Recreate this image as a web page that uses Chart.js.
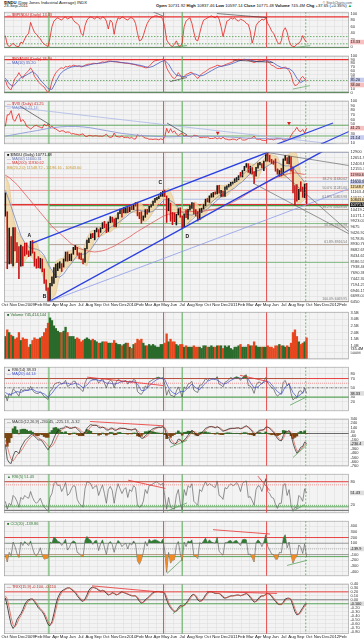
<!DOCTYPE html>
<html lang="en">
<head>
<meta charset="utf-8">
<script src="https://cdn.jsdelivr.net/npm/chart.js@4.4.1/dist/chart.umd.min.js"></script>
<style>
  body { margin: 0; background: #fff; }
  #page { position: relative; width: 364px; height: 640px; overflow: hidden; font-family: Arial, "Liberation Sans", sans-serif; color: #111; }
  #page canvas { position: absolute; left: 0; }
  .hd { position: absolute; font-size: 4.2px; line-height: 4.4px; white-space: nowrap; }
</style>
</head>
<body>
<div id="page">
  <div class="hd" style="left:4px;top:0.5px"><b>$INDU</b> (Dow Jones Industrial Average) INDX</div>
  <div class="hd" style="left:4px;top:4.2px">23-Sep-2011</div>
  <div class="hd" style="right:12px;top:0.5px;font-size:3.4px;color:#555">© StockCharts.com</div>
  <div class="hd" style="right:12px;top:4.2px"><b>Open</b> 10731.92 <b>High</b> 10837.46 <b>Low</b> 10597.14 <b>Close</b> 10771.48 <b>Volume</b> 745.4M <b>Chg</b> +37.65 (+0.35%) <span style="color:#2a2">&#9650;</span></div>
  <canvas id="p1" width="364" height="44" style="top:8px"></canvas>
  <canvas id="p2" width="364" height="45" style="top:52px"></canvas>
  <canvas id="p3" width="364" height="51" style="top:97px"></canvas>
  <canvas id="price" width="364" height="160" style="top:148px"></canvas>
  <canvas id="vol" width="364" height="55" style="top:308px"></canvas>
  <canvas id="rsi" width="364" height="52" style="top:363px"></canvas>
  <canvas id="macd" width="364" height="55" style="top:415px"></canvas>
  <canvas id="sto" width="364" height="47" style="top:470px"></canvas>
  <canvas id="cci" width="364" height="63" style="top:517px"></canvas>
  <canvas id="trix" width="364" height="60" style="top:580px"></canvas>
</div>
<script>
// weekly values, Fri 3-Oct-2008 .. Fri 23-Sep-2011 (156 weeks)
const closes = [
  10325, 8451, 8852, 8378, 9325, 8943, 8497, 8046, 8829, 8635, 8629, 8579, 8515,
  9034, 8599, 8281, 8077, 8000, 8280, 7850, 7366, 7062, 6627, 7224, 7278, 7776,
  8018, 8083, 8131, 8076, 8212, 8575, 8268, 8277, 8500, 8764, 8799, 8539, 8438,
  8280, 8146, 8743, 9093, 9172, 9370, 9321, 9505, 9544, 9441, 9605, 9820, 9665,
  9487, 9865, 9995, 9972, 9713, 10023, 10270, 10318, 10310, 10388, 10471, 10329, 10520,
  10428, 10618, 10610, 10172, 10067, 10012, 10099, 10402, 10325, 10566, 10624, 10742, 10850,
  10927, 10997, 11019, 11204, 11009, 10380, 10620, 10193, 10137, 9932, 10212, 10450, 10144,
  9686, 10198, 10098, 10425, 10466, 10654, 10303, 10214, 10150, 10448, 10462, 10607, 10861,
  10829, 11006, 11063, 11133, 11118, 11445, 11193, 11204, 11092, 11382, 11410, 11492, 11573,
  11578, 11675, 11787, 11872, 11824, 12092, 12273, 12391, 12130, 12170, 12044, 11859, 12221,
  12377, 12380, 12342, 12505, 12811, 12638, 12596, 12512, 12441, 12151, 11952, 12004, 11934,
  12582, 12657, 12480, 12681, 12143, 11444, 11269, 10818, 11285, 11240, 10992, 11509, 10771
];
const highs = [
  11140, 10330, 9630, 9260, 9650, 9650, 9000, 8830, 8900, 8830, 8980, 8990, 8650,
  9060, 9090, 8600, 8300, 8400, 8330, 8300, 7880, 7400, 7060, 7250, 7530, 7930,
  8080, 8120, 8180, 8100, 8300, 8600, 8600, 8500, 8520, 8800, 8880, 8800, 8560,
  8550, 8300, 8760, 9110, 9200, 9380, 9400, 9530, 9630, 9560, 9640, 9860, 9920,
  9800, 9890, 10120, 10100, 10020, 10060, 10290, 10440, 10480, 10520, 10500, 10520, 10540,
  10590, 10640, 10730, 10730, 10300, 10330, 10150, 10420, 10430, 10570, 10640, 10790, 10900,
  10950, 11010, 11150, 11210, 11260, 11010, 10900, 10700, 10300, 10280, 10220, 10460, 10500,
  10150, 10230, 10410, 10430, 10590, 10720, 10700, 10420, 10330, 10460, 10480, 10640, 10870,
  10900, 11010, 11110, 11160, 11180, 11450, 11460, 11250, 11220, 11400, 11440, 11510, 11590,
  11610, 11750, 11800, 11880, 12020, 12100, 12280, 12400, 12390, 12290, 12230, 12050, 12240,
  12420, 12450, 12400, 12510, 12820, 12880, 12760, 12580, 12520, 12600, 12160, 12110, 12190,
  12600, 12750, 12660, 12720, 12690, 12250, 11450, 11500, 11290, 11620, 11390, 11520, 11550
];
const lows = [
  10140, 7880, 8090, 8110, 8000, 8650, 8150, 7450, 7990, 8000, 8430, 8500, 8400,
  8450, 8550, 7990, 7900, 7920, 7900, 7750, 7250, 6950, 6470, 6470, 7140, 7250,
  7500, 7800, 7900, 7760, 7950, 8210, 8200, 8230, 8220, 8500, 8700, 8460, 8300,
  8270, 8090, 8150, 8730, 9000, 9170, 9210, 9120, 9460, 9250, 9440, 9600, 9640,
  9430, 9480, 9860, 9880, 9680, 9680, 10020, 10250, 10100, 10280, 10280, 10290, 10330,
  10420, 10420, 10570, 10150, 10030, 9830, 9960, 10090, 10220, 10320, 10530, 10600, 10730,
  10840, 10890, 10990, 10990, 10980, 9870, 10370, 9920, 9770, 9900, 9760, 10190, 10090,
  9620, 9680, 10070, 10010, 10400, 10470, 10240, 10150, 9930, 9990, 10300, 10440, 10580,
  10750, 10730, 10950, 10960, 11080, 11090, 11130, 10990, 10990, 10990, 11290, 11400, 11440,
  11520, 11580, 11630, 11700, 11820, 11820, 12090, 12240, 12020, 11980, 11940, 11550, 11860,
  12200, 12340, 12210, 12090, 12500, 12500, 12470, 12400, 12370, 12070, 11940, 11860, 11870,
  11930, 12530, 12390, 12380, 12070, 11140, 10600, 10780, 10850, 11200, 10950, 10930, 10600
];
// every second week
const bbUpper = [11900, 11500, 10100, 9500, 9250, 9000, 8850, 9100, 9050, 8500, 8400, 8000, 7700,
  8200, 8300, 8350, 8650, 8650, 8900, 8850, 8700, 9200, 9500, 9550, 9620, 9850,
  9870, 10050, 10100, 10300, 10420, 10500, 10560, 10650, 10770, 10700, 10450, 10600, 10850,
  10980, 11100, 11230, 11350, 11000, 10500, 10500, 10400, 10500, 10700, 10750, 10550, 10700,
  10950, 11100, 11200, 11480, 11450, 11500, 11630, 11700, 11880, 12080, 12400, 12400, 12350,
  12450, 12480, 12700, 12820, 12750, 12700, 12300, 12750, 12800, 13000, 12800, 11900, 11550];
const bbLower = [10300, 8300, 7900, 8300, 7950, 8200, 8450, 8350, 7950, 7900, 7400, 6600, 6600,
  6800, 7600, 7850, 7950, 8150, 8300, 8350, 8100, 8000, 8700, 9150, 9280, 9300,
  9430, 9450, 9600, 9650, 9980, 10200, 10280, 10300, 10250, 9900, 9900, 10050, 10300,
  10600, 10800, 10900, 10250, 9950, 9850, 9900, 9700, 9800, 10100, 10150, 9950, 10050,
  10350, 10700, 10900, 10950, 10950, 11000, 11200, 11400, 11530, 11620, 11800, 12000, 11750,
  11750, 12130, 12200, 12400, 12350, 11950, 11800, 11800, 12200, 11500, 10700, 10700, 10850];
const ma50 = [11250, 10800, 10300, 9800, 9300, 9000, 8800, 8750, 8720, 8650, 8450, 8100, 7800,
  7550, 7520, 7650, 7900, 8100, 8350, 8500, 8500, 8550, 8700, 8950, 9200, 9400,
  9550, 9650, 9750, 9850, 9980, 10100, 10250, 10350, 10400, 10380, 10330, 10300, 10350,
  10500, 10700, 10850, 10850, 10750, 10600, 10400, 10250, 10200, 10180, 10250, 10300, 10350,
  10450, 10600, 10750, 10900, 11020, 11150, 11250, 11350, 11500, 11620, 11800, 11950, 12030,
  12100, 12150, 12250, 12350, 12450, 12450, 12350, 12300, 12300, 12250, 12000, 11800, 11600];
const ma200 = [11900, 11800, 11650, 11500, 11300, 11100, 10900, 10700, 10500, 10300, 10100, 9900, 9700,
  9550, 9400, 9250, 9100, 8950, 8850, 8750, 8700, 8650, 8620, 8600, 8620, 8650,
  8700, 8780, 8850, 8950, 9050, 9150, 9250, 9370, 9480, 9580, 9680, 9780, 9880,
  9980, 10080, 10160, 10220, 10260, 10290, 10310, 10320, 10330, 10340, 10350, 10350, 10360,
  10380, 10400, 10440, 10500, 10560, 10620, 10700, 10780, 10870, 10970, 11080, 11180, 11280,
  11380, 11470, 11560, 11650, 11740, 11810, 11870, 11920, 11970, 12000, 11990, 11960, 11930];
const bpindu = [
  33, 5, 0, 3, 10, 3, 0, 0, 13, 10, 23, 33, 40,
  73, 57, 43, 37, 30, 23, 13, 7, 3, 0, 27, 60, 77,
  83, 87, 83, 80, 87, 90, 83, 87, 90, 80, 73, 70, 63,
  40, 33, 63, 80, 87, 90, 87, 83, 90, 87, 83, 90, 87,
  77, 53, 80, 73, 37, 70, 87, 83, 90, 87, 83, 80, 87,
  87, 83, 70, 40, 17, 20, 33, 53, 70, 80, 87, 90, 93,
  93, 90, 90, 83, 60, 20, 10, 3, 0, 7, 17, 3, 0,
  10, 60, 77, 83, 87, 70, 43, 20, 17, 40, 63, 80, 83,
  87, 90, 93, 90, 87, 93, 83, 60, 30, 53, 77, 80, 87,
  83, 87, 80, 77, 83, 80, 77, 70, 67, 47, 10, 30, 63,
  73, 77, 83, 80, 87, 70, 60, 47, 40, 27, 13, 7, 17,
  47, 57, 43, 17, 3, 0, 0, 7, 10, 17, 33, 20, 13
];
const breadth = [
  35, 20, 12, 9, 25, 40, 45, 55, 45, 40, 50, 55, 60,
  68, 60, 45, 38, 30, 25, 20, 16, 8, 0, 10, 32, 45,
  55, 60, 66, 68, 66, 72, 70, 73, 72, 75, 74, 72, 73,
  70, 72, 75, 77, 78, 78, 80, 80, 79, 80, 82, 84, 83,
  84, 86, 86, 85, 84, 84, 83, 82, 82, 81, 80, 80, 79,
  78, 77, 76, 74, 73, 72, 70, 68, 68, 72, 78, 84, 87,
  88, 89, 90, 91, 88, 68, 58, 50, 42, 39, 45, 55, 48,
  39, 45, 50, 52, 55, 56, 50, 45, 39, 46, 52, 55, 58,
  62, 66, 68, 70, 72, 75, 74, 72, 73, 76, 78, 80, 82,
  84, 87, 89, 91, 90, 90, 91, 90, 88, 86, 84, 82, 84,
  86, 87, 86, 88, 89, 86, 80, 75, 73, 69, 66, 66, 66,
  68, 70, 66, 60, 50, 30, 20, 22, 27, 40, 45, 38, 34
];
const breadthMa = [40, 25, 18, 30, 42, 46, 52, 58, 50, 35, 24, 12, 10,
  30, 50, 60, 66, 70, 72, 73, 72, 74, 77, 79, 80, 81,
  83, 85, 85, 84, 82, 81, 80, 78, 76, 74, 71, 69, 72,
  78, 84, 88, 78, 60, 48, 46, 44, 47, 52, 51, 46, 48,
  54, 60, 66, 71, 73, 75, 78, 82, 86, 89, 90, 89, 86,
  84, 85, 87, 86, 81, 74, 69, 67, 66, 58, 40, 28, 35];
const vix = [
  45.1, 69.9, 70.3, 79.1, 59.9, 56.1, 66.3, 72.7, 55.3, 59.9, 54.3, 44.9, 43.4,
  39.2, 42.8, 46.1, 47.3, 44.8, 43.4, 41.3, 50.0, 46.4, 49.3, 42.4, 45.9, 40.7,
  39.7, 36.5, 33.9, 35.8, 35.3, 32.1, 33.1, 32.6, 28.9, 29.6, 28.2, 27.9, 26.4,
  27.9, 29.0, 24.3, 23.1, 25.9, 25.4, 24.2, 25.0, 25.0, 24.0, 24.2, 23.7, 25.6,
  28.3, 23.1, 21.4, 22.3, 30.7, 23.7, 22.8, 22.2, 24.7, 21.3, 21.6, 21.7, 19.5,
  21.7, 18.1, 17.9, 27.3, 24.6, 26.1, 22.7, 20.0, 19.5, 17.4, 17.6, 16.9, 17.8,
  17.5, 16.1, 18.4, 16.6, 22.1, 40.9, 31.2, 40.1, 32.1, 35.5, 28.8, 24.9, 28.5,
  30.1, 24.0, 26.3, 23.5, 23.5, 22.1, 26.2, 25.5, 24.5, 21.3, 21.2, 22.0, 21.7,
  22.5, 18.9, 19.1, 19.2, 21.2, 18.3, 20.6, 18.0, 22.1, 18.0, 17.6, 16.1, 16.5,
  17.8, 17.1, 15.5, 18.5, 20.0, 15.9, 15.7, 16.4, 19.2, 19.1, 20.1, 24.4, 17.9,
  17.4, 17.9, 15.3, 15.0, 14.8, 18.4, 17.1, 17.4, 15.9, 17.9, 18.9, 18.9, 19.2,
  15.9, 16.0, 19.5, 17.5, 25.3, 32.0, 36.4, 43.1, 35.6, 33.9, 38.5, 30.9, 41.3
];
// every fourth week
const vixMa = [24, 27, 30, 33, 36, 39, 42, 44, 45, 45, 44, 42, 39, 36, 33, 30, 28, 26, 25, 24,
  23, 22.5, 23, 23.5, 24, 24, 24, 23.5, 23, 22, 21, 20, 19.5, 19, 18.5, 18, 18.5, 19.5, 21];
// average daily volume per week, billions
const volume = [
  1.7, 2.2, 2.0, 1.8, 1.7, 1.5, 1.6, 2.0, 1.4, 1.6, 1.5, 1.5, 0.9,
  1.1, 1.4, 1.6, 1.5, 1.5, 1.6, 1.7, 2.0, 2.3, 2.7, 3.1, 2.9, 2.5,
  2.3, 2.1, 2.0, 2.0, 2.1, 2.4, 2.0, 1.7, 1.7, 1.7, 1.5, 1.6, 1.5,
  1.3, 1.4, 1.5, 1.6, 1.5, 1.4, 1.5, 1.4, 1.3, 1.2, 1.2, 1.3, 1.3,
  1.3, 1.2, 1.2, 1.2, 1.4, 1.2, 1.1, 1.1, 1.0, 1.1, 1.2, 1.2, 0.9,
  0.8, 1.1, 1.2, 1.5, 1.4, 1.5, 1.2, 1.0, 1.0, 1.1, 1.0, 1.1, 1.0,
  0.9, 0.9, 1.1, 1.1, 1.2, 1.9, 1.3, 1.5, 1.3, 1.3, 1.1, 1.0, 1.1,
  1.1, 0.9, 1.0, 0.9, 0.9, 0.9, 1.0, 0.9, 0.9, 0.9, 0.8, 1.0, 1.0,
  0.9, 0.9, 1.0, 0.9, 0.9, 1.0, 1.0, 1.0, 0.8, 1.0, 0.9, 1.0, 0.8,
  0.7, 0.9, 0.9, 1.0, 1.1, 0.9, 0.9, 0.9, 1.1, 1.0, 1.0, 1.3, 1.0,
  0.9, 0.9, 0.9, 0.9, 0.9, 1.0, 0.9, 0.9, 0.8, 1.0, 1.0, 1.1, 1.0,
  1.0, 0.9, 1.0, 0.9, 1.2, 2.0, 2.2, 1.7, 1.3, 1.1, 1.2, 1.3, 1.6
];
const rsi = [
  35, 22, 38, 33, 48, 44, 38, 32, 47, 44, 46, 45, 45,
  53, 45, 40, 38, 38, 42, 37, 31, 28, 25, 43, 46, 56,
  60, 61, 62, 58, 60, 66, 53, 55, 60, 64, 64, 52, 50,
  46, 42, 60, 70, 70, 71, 68, 67, 69, 60, 65, 70, 60,
  50, 62, 66, 64, 50, 62, 68, 66, 62, 64, 66, 58, 65,
  62, 68, 66, 42, 38, 36, 42, 54, 50, 63, 65, 68, 70,
  72, 73, 70, 72, 58, 34, 46, 34, 33, 30, 43, 52, 42,
  30, 52, 48, 58, 60, 64, 45, 42, 40, 56, 56, 62, 70,
  66, 70, 70, 70, 68, 74, 58, 56, 52, 62, 64, 68, 72,
  70, 72, 74, 72, 66, 72, 76, 78, 55, 54, 48, 38, 55,
  62, 62, 58, 64, 72, 60, 56, 50, 48, 38, 32, 36, 38,
  62, 66, 54, 60, 38, 24, 28, 28, 42, 44, 38, 50, 38
];
const rsiMa = [40, 35, 38, 42, 40, 44, 45, 47, 42, 40, 37, 30, 38,
  50, 58, 60, 60, 57, 60, 57, 50, 56, 66, 68, 66, 65,
  60, 60, 58, 60, 64, 64, 62, 64, 58, 44, 45, 54, 62,
  68, 71, 68, 50, 40, 36, 42, 42, 50, 58, 50, 46, 56,
  64, 68, 69, 64, 58, 60, 66, 70, 72, 70, 74, 62, 50,
  52, 60, 64, 62, 52, 42, 36, 52, 58, 40, 30, 36, 44];
const macd = [
  -250, -600, -680, -700, -530, -420, -420, -470, -330, -250, -170, -120, -90,
  -30, -20, -60, -110, -150, -150, -180, -250, -320, -380, -300, -230, -110,
  -10, 60, 110, 120, 130, 170, 150, 120, 120, 140, 150, 110, 60,
  20, -30, 30, 120, 170, 210, 190, 190, 190, 140, 130, 150, 130,
  80, 80, 120, 130, 80, 70, 110, 130, 120, 120, 110, 90, 90,
  80, 100, 110, 20, -50, -110, -110, -50, -20, 40, 80, 110, 130,
  140, 150, 140, 160, 120, -60, -90, -200, -230, -250, -220, -130, -140,
  -210, -150, -110, -40, 20, 80, 40, -10, -60, -10, 20, 60, 120,
  140, 160, 160, 150, 130, 160, 130, 90, 50, 70, 90, 110, 120,
  120, 120, 130, 130, 110, 130, 160, 180, 140, 100, 50, -30, 0,
  50, 80, 80, 90, 150, 150, 120, 70, 30, -40, -120, -160, -170,
  -50, 40, 40, 70, -20, -220, -360, -460, -400, -320, -300, -200, -230
];
const macdSignal = [
  -150, -300, -470, -600, -640, -580, -500, -460, -420, -350, -270, -200, -140,
  -90, -50, -40, -60, -100, -130, -150, -180, -230, -290, -320, -300, -240,
  -150, -50, 30, 90, 115, 130, 150, 145, 130, 130, 140, 135, 110,
  70, 20, 0, 30, 100, 160, 195, 195, 190, 180, 155, 140, 140,
  120, 95, 95, 110, 110, 95, 90, 105, 120, 120, 115, 105, 95,
  90, 90, 100, 75, 20, -50, -95, -90, -60, -20, 30, 70, 105,
  125, 140, 145, 150, 145, 60, -40, -110, -180, -225, -235, -190, -160,
  -170, -175, -140, -95, -30, 30, 50, 30, -15, -30, -10, 25, 80,
  120, 145, 160, 155, 145, 145, 145, 115, 75, 65, 75, 95, 110,
  120, 120, 125, 130, 120, 120, 140, 165, 155, 125, 80, 20, -5,
  20, 60, 75, 85, 115, 145, 135, 100, 55, 0, -70, -130, -165,
  -120, -20, 30, 55, 30, -100, -270, -400, -420, -370, -320, -260, -225
];
const sto = [
  30, 10, 25, 20, 45, 40, 30, 15, 40, 35, 45, 40, 38,
  55, 40, 30, 25, 30, 38, 25, 15, 10, 5, 40, 50, 75,
  80, 70, 72, 55, 65, 78, 45, 50, 62, 70, 68, 35, 25,
  20, 15, 62, 80, 78, 75, 62, 68, 70, 45, 60, 72, 50,
  25, 60, 68, 58, 25, 55, 75, 62, 50, 60, 65, 40, 60,
  55, 70, 65, 20, 15, 18, 30, 60, 50, 70, 72, 75, 78,
  80, 75, 72, 76, 45, 10, 40, 15, 12, 10, 45, 60, 25,
  8, 60, 45, 70, 65, 75, 30, 25, 20, 60, 55, 70, 80,
  70, 75, 72, 68, 65, 82, 45, 42, 35, 65, 62, 70, 75,
  70, 72, 78, 70, 55, 75, 80, 82, 40, 42, 32, 20, 60,
  70, 68, 55, 72, 88, 55, 50, 40, 38, 22, 12, 25, 25,
  72, 75, 45, 60, 20, 5, 15, 12, 45, 40, 30, 62, 51
];
const cci = [
  -110, -230, -60, -120, 120, 40, -80, -150, 120, 60, 130, 90, 60,
  140, 20, -90, -120, -70, 20, -110, -180, -170, -160, 120, 100, 210,
  180, 130, 120, 60, 110, 170, -20, 30, 110, 140, 120, -60, -80,
  -120, -140, 150, 220, 170, 150, 80, 140, 150, -30, 90, 160, 30,
  -100, 90, 130, 80, -60, 70, 150, 110, 40, 80, 100, 0, 100,
  70, 140, 90, -210, -270, -190, -60, 130, 50, 170, 130, 150, 160,
  150, 130, 110, 170, -20, -410, -60, -250, -200, -190, 60, 130, -80,
  -210, 120, 40, 140, 120, 160, -120, -130, -170, 110, 90, 140, 190,
  110, 160, 120, 110, 100, 210, -40, -80, -110, 110, 110, 140, 150,
  110, 140, 150, 100, 60, 160, 170, 160, -100, -90, -160, -230, 110,
  160, 120, 40, 120, 250, 40, -20, -90, -100, -180, -180, -60, -70,
  190, 250, 20, 120, -110, -250, -170, -130, 70, 30, -80, 90, -140
];
const trix = [
  0.05, -0.15, -0.40, -0.62, -0.72, -0.65, -0.50, -0.42, -0.35, -0.25, -0.12, -0.04, 0.00,
  0.02, 0.02, -0.05, -0.12, -0.20, -0.25, -0.30, -0.38, -0.50, -0.62, -0.65, -0.55, -0.35,
  -0.12, 0.05, 0.15, 0.22, 0.25, 0.28, 0.30, 0.30, 0.26, 0.22, 0.18, 0.10, 0.04,
  -0.02, -0.04, 0.02, 0.12, 0.24, 0.30, 0.32, 0.30, 0.28, 0.24, 0.22, 0.24, 0.22,
  0.16, 0.12, 0.14, 0.18, 0.16, 0.12, 0.14, 0.18, 0.20, 0.18, 0.16, 0.14, 0.12,
  0.10, 0.10, 0.10, 0.04, -0.04, -0.08, -0.06, 0.00, 0.04, 0.08, 0.14, 0.18, 0.20,
  0.21, 0.21, 0.20, 0.20, 0.16, 0.00, -0.12, -0.20, -0.26, -0.30, -0.28, -0.20, -0.14,
  -0.16, -0.14, -0.08, -0.02, 0.06, 0.12, 0.14, 0.08, 0.00, -0.04, -0.02, 0.04, 0.12,
  0.18, 0.20, 0.20, 0.18, 0.16, 0.16, 0.16, 0.12, 0.06, 0.04, 0.06, 0.08, 0.10,
  0.10, 0.11, 0.12, 0.12, 0.10, 0.12, 0.14, 0.16, 0.12, 0.06, 0.00, -0.06, -0.04,
  0.02, 0.08, 0.10, 0.10, 0.14, 0.16, 0.14, 0.08, 0.02, -0.04, -0.10, -0.12, -0.12,
  -0.06, 0.02, 0.04, 0.04, 0.00, -0.15, -0.30, -0.38, -0.36, -0.28, -0.20, -0.12, -0.10
];
const trixSignal = [
  0.10, 0.02, -0.20, -0.45, -0.63, -0.68, -0.60, -0.48, -0.40, -0.31, -0.20, -0.09, -0.03,
  0.00, 0.02, -0.02, -0.08, -0.15, -0.22, -0.27, -0.33, -0.43, -0.55, -0.62, -0.60, -0.46,
  -0.25, -0.05, 0.09, 0.18, 0.23, 0.26, 0.29, 0.30, 0.28, 0.24, 0.20, 0.14, 0.07,
  0.02, -0.02, -0.01, 0.06, 0.17, 0.26, 0.30, 0.31, 0.29, 0.26, 0.23, 0.23, 0.23,
  0.19, 0.14, 0.13, 0.16, 0.17, 0.14, 0.13, 0.16, 0.19, 0.19, 0.17, 0.15, 0.13,
  0.11, 0.10, 0.10, 0.07, 0.00, -0.06, -0.07, -0.03, 0.02, 0.06, 0.11, 0.16, 0.19,
  0.20, 0.21, 0.21, 0.20, 0.18, 0.08, -0.06, -0.16, -0.23, -0.28, -0.29, -0.24, -0.17,
  -0.15, -0.15, -0.11, -0.05, 0.02, 0.09, 0.13, 0.11, 0.04, -0.02, -0.03, 0.01, 0.08,
  0.15, 0.19, 0.20, 0.19, 0.17, 0.16, 0.16, 0.14, 0.09, 0.05, 0.05, 0.07, 0.09,
  0.10, 0.10, 0.11, 0.12, 0.11, 0.11, 0.13, 0.15, 0.14, 0.09, 0.03, -0.03, -0.05,
  -0.01, 0.05, 0.09, 0.10, 0.12, 0.15, 0.15, 0.11, 0.05, -0.01, -0.07, -0.11, -0.12,
  -0.09, -0.02, 0.03, 0.04, 0.02, -0.08, -0.22, -0.34, -0.37, -0.32, -0.24, -0.16, -0.11
];

const MONTHS = ['Jan', 'Feb', 'Mar', 'Apr', 'May', 'Jun', 'Jul', 'Aug', 'Sep', 'Oct', 'Nov', 'Dec'];
const FONT = 'Arial, "Liberation Sans", sans-serif';
const GRID = '#dadada';
const GREEN = '#6cb86c', RED = '#e84a4a', BROWN = '#a58e80', LBLUE = '#a9b7e4';

// x axis unit: months since 1-Oct-2008
const ORIGIN = Date.UTC(2008, 9, 1);
function mx(y, m, d) { return (Date.UTC(y, m - 1, d) - ORIGIN) / 86400000 / 30.4375; }
const X_MIN = -0.09, X_MAX = 40.73;
function weekX(i) { return mx(2008, 10, 3) + i * 7 / 30.4375; }
function biX(k) { return weekX(2 * k); }
function fourX(k) { return weekX(4 * k); }
function series(arr, xf) { return arr.map((v, k) => ({ x: xf(k), y: v })); }

const VLINES = [
  [mx(2009, 3, 9), GREEN, 1.2], [mx(2010, 4, 26), RED, 1], [mx(2010, 7, 2), GREEN, 1.2],
  [mx(2011, 5, 2), RED, 1], [mx(2011, 9, 20), '#55aa55', 0.8, [2, 1.5]]
];

function monthLabel(v) {
  const k = Math.round(v) + 9;
  const m = k % 12;
  return m === 0 ? String(2008 + k / 12) : MONTHS[m];
}

function decoPlugin(d) {
  return {
    id: 'deco',
    beforeDraw(chart) {
      const a = chart.chartArea, c = chart.ctx;
      c.save();
      c.fillStyle = '#f3f3f3';
      c.fillRect(a.left, a.top, a.right - a.left, a.bottom - a.top);
      c.restore();
    },
    beforeDatasetsDraw(chart) {
      const { ctx: c, chartArea: a } = chart;
      const x = chart.scales.x, y = chart.scales.y;
      c.save();
      c.beginPath(); c.rect(a.left, a.top, a.right - a.left, a.bottom - a.top); c.clip();
      (d.hlines || []).forEach(h => {
        const py = y.getPixelForValue(h.v);
        const x1 = h.from == null ? a.left : x.getPixelForValue(h.from);
        const x2 = h.to == null ? a.right : x.getPixelForValue(h.to);
        c.strokeStyle = h.c; c.lineWidth = h.w || 0.8; c.setLineDash(h.dash || []);
        c.beginPath(); c.moveTo(x1, py); c.lineTo(x2, py); c.stroke();
      });
      VLINES.forEach(([v, col, w, dash]) => {
        const px = x.getPixelForValue(v);
        c.strokeStyle = col; c.lineWidth = w; c.setLineDash(dash || []);
        c.beginPath(); c.moveTo(px, a.top); c.lineTo(px, a.bottom); c.stroke();
      });
      c.restore();
    },
    afterDatasetsDraw(chart) {
      const { ctx: c, chartArea: a } = chart;
      const x = chart.scales.x, y = chart.scales.y;
      c.save();
      c.beginPath(); c.rect(a.left, a.top, a.right - a.left, a.bottom - a.top); c.clip();
      (d.segs || []).forEach(([x1, y1, x2, y2, col, w]) => {
        c.strokeStyle = col; c.lineWidth = w || 0.7; c.setLineDash([]);
        c.beginPath();
        c.moveTo(x.getPixelForValue(x1), y.getPixelForValue(y1));
        c.lineTo(x.getPixelForValue(x2), y.getPixelForValue(y2));
        c.stroke();
      });
      (d.texts || []).forEach(([tx, ty, t, col, font, align]) => {
        c.fillStyle = col; c.font = font; c.textAlign = align || 'left'; c.textBaseline = 'bottom';
        c.fillText(t, x.getPixelForValue(tx), y.getPixelForValue(ty));
      });
      c.textAlign = 'left'; c.textBaseline = 'top'; c.font = '3.9px ' + FONT;
      (d.legend || []).forEach(([t, col], k) => {
        c.fillStyle = col;
        c.fillText(t, a.left + 3, a.top + 1 + k * 4.2);
      });
      c.restore();
    },
    afterDraw(chart) {
      const { ctx: c, chartArea: a } = chart;
      const y = chart.scales.y;
      c.save();
      c.strokeStyle = '#9a9a9a'; c.lineWidth = 0.6;
      c.strokeRect(a.left + 0.3, a.top + 0.3, a.right - a.left - 0.6, a.bottom - a.top - 0.6);
      const items = (d.boxes || []).map(b => ({ ...b, py: y.getPixelForValue(b.v) })).sort((p, q) => p.py - q.py);
      for (let k = 1; k < items.length; k++) {
        if (items[k].py - items[k - 1].py < 5) items[k].py = items[k - 1].py + 5;
      }
      c.font = '3.8px ' + FONT; c.textBaseline = 'middle'; c.textAlign = 'left';
      items.forEach(b => {
        c.fillStyle = b.bg;
        c.fillRect(a.right + 1, b.py - 2.3, 14, 4.6);
        c.fillStyle = b.fg || '#111';
        c.fillText(b.t, a.right + 1.5, b.py + 0.2);
      });
      c.restore();
    }
  };
}

function xAxis(labels) {
  return {
    type: 'linear', min: X_MIN, max: X_MAX, offset: false,
    grid: { color: GRID, lineWidth: 0.5, drawTicks: false, offset: false },
    border: { display: false },
    ticks: {
      display: labels, stepSize: 1, autoSkip: false, maxRotation: 0, includeBounds: false,
      padding: 0.5, font: { size: 4.3, family: FONT }, color: '#222', callback: monthLabel
    },
    afterFit(s) { s.height = labels ? 6 : 0; }
  };
}

function yAxis(min, max, tick, extra) {
  return Object.assign({
    position: 'right', min, max,
    grid: { color: GRID, lineWidth: 0.5, drawTicks: false },
    border: { display: false },
    ticks: Object.assign({
      font: { size: 4, family: FONT }, color: '#333', padding: 1.5, autoSkip: false, includeBounds: false
    }, tick),
    afterFit(s) { s.width = 15; }
  }, extra || {});
}

function makeChart(id, type, datasets, labels, y, d) {
  return new Chart(document.getElementById(id), {
    type,
    data: { datasets },
    options: {
      responsive: false, animation: false, devicePixelRatio: 1,
      layout: { padding: { left: 4, right: 0, top: 0, bottom: 0 }, autoPadding: false },
      plugins: { legend: { display: false }, tooltip: { enabled: false } },
      elements: { point: { radius: 0 }, line: { tension: 0 } },
      scales: { x: xAxis(labels), y }
    },
    plugins: [decoPlugin(d)]
  });
}

function line(data, color, w, extra) {
  return Object.assign({ type: 'line', data, borderColor: color, borderWidth: w, pointRadius: 0, fill: false }, extra || {});
}
function band(data, target, above, below) {
  return { type: 'line', data, borderWidth: 0, pointRadius: 0, fill: { target: { value: target }, above, below } };
}
const CLEAR = 'rgba(0,0,0,0)';
const upWeek = closes.map((v, i) => i === 0 || v >= closes[i - 1]);

// ---- panel 1: bullish percent
makeChart('p1', 'line', [line(series(bpindu, weekX), '#e8201c', 0.8)], false,
  yAxis(-5, 105, { stepSize: 20 }),
  {
    hlines: [{ v: 90, c: '#e83030', w: 1.2 }, { v: 30, c: '#4a9a4a', dash: [1.5, 1.5] },
      { v: 8, c: '#4a9a4a', dash: [1.5, 1.5] }, { v: -3.5, c: '#2f7a2f', w: 1.4 }],
    segs: [[25.11, 100, 31.03, 87.5, '#333', 0.6], [17.56, 105, 18.72, 92.5, '#333', 0.6],
      [19.56, -2.5, 21.56, 2.5, '#2f7a2f', 0.6], [33.76, -5, 36.13, 2.5, '#4a9a4a', 0.6]],
    legend: [['\u2014 $BPINDU (Daily) 13.33', '#d02020']],
    boxes: [{ v: 13.33, t: '13.33', bg: '#f6c0c0' }]
  });

// ---- panel 2: breadth oscillator with its moving average
makeChart('p2', 'line', [
  line(series(breadthMa, biX), '#4a5bbf', 0.8),
  line(series(breadth, weekX), '#ee2a2a', 0.8)
], false, yAxis(0, 100, { stepSize: 10 }),
  {
    hlines: [{ v: 90, c: '#e83030', w: 1.2 }, { v: 34, c: '#4a9a4a', dash: [1.5, 1.5] }, { v: 1.5, c: '#2f7a2f', w: 1.4 }],
    segs: [[27.0, 88.9, 31.73, 82.2, '#333', 0.6], [19.56, 31, 21.56, 42, '#333', 0.6], [34.1, 11, 36.1, 20, '#4a9a4a', 0.6]],
    legend: [['\u2014 $NYA50R (Daily) 34.00', '#d02020'], ['\u2014 MA(10) 35.20', '#4a5bbf']],
    boxes: [{ v: 34, t: '34.00', bg: '#f6c0c0' }, { v: 35.2, t: '35.20', bg: '#c6ccee' }]
  });

// ---- panel 3: VIX
makeChart('p3', 'line', [
  line(series(vixMa, fourX), '#8e9bd8', 0.9),
  line(series(vix, weekX), '#e8201c', 0.8),
  { type: 'line', showLine: false, data: [{ x: 25.2, y: 31 }, { x: 33.63, y: 52 }], pointStyle: 'triangle', rotation: 180, pointRadius: 2.2, pointBackgroundColor: '#e02020', pointBorderWidth: 0 }
], false, yAxis(7, 100, { stepSize: 10 }),
  {
    hlines: [{ v: 47.5, c: '#5aa65a', w: 0.9 }, { v: 24.5, c: '#5aa65a', w: 0.9 }],
    segs: [[-0.09, 88.7, 40.73, 3.3, LBLUE, 0.8], [1.8, 88.7, 5.35, 48.7, '#222', 0.6],
      [19.2, 52.4, 21.56, 26.9, '#222', 0.6], [32.22, 6.9, 38.84, 52.4, '#3448e0', 1.2],
      [37.42, 6.9, 40.73, 34.2, '#3448e0', 1.2]],
    legend: [['\u2014 $VIX (Daily) 41.25', '#d02020'], ['\u2014 MA(200) 21.14', '#7f8fd0']],
    boxes: [{ v: 41.25, t: '41.25', bg: '#f6c0c0' }, { v: 21.14, t: '21.14', bg: '#c6ccee' }]
  });

// ---- main price panel
makeChart('price', 'bar', [
  line(series(bbUpper, biX), 'rgba(214,180,120,0.85)', 0.5, { order: 10 }),
  line(series(bbLower, biX), 'rgba(214,180,120,0.85)', 0.5, { order: 10, fill: '-1', backgroundColor: 'rgba(240,214,160,0.8)' }),
  line(series(ma200, biX), '#e55a5a', 0.8, { order: 5 }),
  line(series(ma50, biX), '#7a88b8', 0.8, { order: 5 }),
  {
    type: 'bar', order: 1, data: closes.map((_, i) => ({ x: weekX(i), y: [lows[i], highs[i]] })),
    backgroundColor: upWeek.map(u => u ? '#151515' : '#c41010'), barThickness: 0.9, borderWidth: 0
  }
], true, yAxis(6450, 12900, { stepSize: 250, callback: v => String(v) }),
  {
    hlines: [
      { v: 12876, c: LBLUE, from: 21.0 }, { v: 12876, c: BROWN, from: 5.26, to: 21.0 },
      { v: 11790, c: '#f09a9a' }, { v: 11630, c: LBLUE, from: 21.0 },
      { v: 11245, c: '#ee7a7a' }, { v: 10860, c: LBLUE, from: 21.0 },
      { v: 10630, c: '#e23434', w: 1.6 }, { v: 10595, c: '#3f963f', w: 1.3, from: 5.26 },
      { v: 10428, c: BROWN, from: 5.26 }, { v: 9820, c: '#6ab06a', from: 5.26 },
      { v: 9672, c: BROWN, from: 5.26 }, { v: 8916, c: BROWN, from: 5.26 },
      { v: 8150, c: '#6ab06a' }, { v: 6470, c: BROWN, w: 1, from: 5.26 }
    ],
    segs: [
      [3.25, 8980, 33.5, 13215, '#2a3fe0', 1.4],
      [5.26, 6470, 40.73, 13543, '#2a3fe0', 1.4],
      [5.26, 6470, 40.73, 11319, '#8f9ce8', 0.8],
      [31.03, 12876, 40.73, 12313, '#555', 0.6],
      [32.21, 12190, 40.73, 9465, '#555', 0.6],
      [29.37, 11560, 40.73, 9380, '#555', 0.6],
      [21.56, 9800, 31.03, 12850, '#777', 0.6]
    ],
    texts: [
      [2.9, 9180, 'A', '#111', 'bold 5px ' + FONT, 'center'],
      [4.7, 6560, 'B', '#111', 'bold 5px ' + FONT, 'center'],
      [18.4, 11480, 'C', '#111', 'bold 5px ' + FONT, 'center'],
      [21.6, 9150, 'D', '#111', 'bold 5px ' + FONT, 'center'],
      [40.5, 12890, '0.0% 12876.00', '#777', '3.4px ' + FONT, 'right'],
      [40.5, 11650, '38.2% 11630.02', '#777', '3.4px ' + FONT, 'right'],
      [40.5, 11265, '50.0% 11245.00', '#777', '3.4px ' + FONT, 'right'],
      [40.5, 10880, '61.8% 10859.98', '#777', '3.4px ' + FONT, 'right'],
      [40.5, 10448, '38.2% 10428.46', '#777', '3.4px ' + FONT, 'right'],
      [40.5, 9692, '50.0% 9672.98', '#777', '3.4px ' + FONT, 'right'],
      [40.5, 8936, '61.8% 8916.54', '#777', '3.4px ' + FONT, 'right'],
      [40.5, 6490, '100.0% 6469.95', '#777', '3.4px ' + FONT, 'right']
    ],
    legend: [['\u25A0 $INDU (Daily) 10771.48', '#111'], ['\u2014 MA(50) 11600.31', '#6a78b0'],
      ['\u2014 MA(200) 11930.62', '#d84040'], ['BB(20,2.0) 11548.72 - 11196.16 - 10843.60', '#c8962e']],
    boxes: [{ v: 11930, t: '11930.6', bg: '#f6c0c0' }, { v: 11600, t: '11600.3', bg: '#c6ccee' },
      { v: 11550, t: '11548.7', bg: '#f3dcaa' }, { v: 10844, t: '10843.6', bg: '#f3dcaa' },
      { v: 10771, t: '10771.5', bg: '#222', fg: '#fff' }]
  });

// ---- volume
makeChart('vol', 'bar', [{
  type: 'bar', data: series(volume, weekX),
  backgroundColor: upWeek.map(u => u ? '#2a6a2a' : '#e8461e'), barThickness: 1.7, borderWidth: 0
}], false, yAxis(0, 3.55, { stepSize: 0.5, callback: v => v === 0 ? '' : (v < 1 ? (v * 1000) + 'M' : v.toFixed(1) + 'B') }),
  {
    legend: [['\u25A0 Volume 745,414,144', '#2a6a2a']],
    boxes: [{ v: 0.745, t: '745.4M', bg: '#fff' }]
  });

// ---- RSI
makeChart('rsi', 'line', [
  band(series(rsi, weekX), 70, '#2e7d32', CLEAR),
  line(series(rsiMa, biX), '#3b4fd0', 0.7),
  line(series(rsi, weekX), '#555', 0.7)
], false, yAxis(0, 95, {}, { afterBuildTicks(s) { s.ticks = [20, 30, 50, 70, 80].map(v => ({ value: v })); } }),
  {
    hlines: [{ v: 70, c: '#e84040', w: 1 }, { v: 60, c: '#f08080', dash: [1, 1] },
      { v: 50, c: '#555', dash: [2, 1, 0.6, 1] }, { v: 30, c: '#5aa65a', w: 1.2 }],
    segs: [[9.74, 73, 18.72, 55, '#e83030', 0.8], [27.83, 77, 31.03, 64, '#e83030', 0.8], [33.76, 12.8, 35.77, 31, '#4a9a4a', 0.7]],
    legend: [['\u25B2 RSI(14) 38.33', '#333'], ['\u2014 MA(20) 44.14', '#3b4fd0']],
    boxes: [{ v: 38, t: '38.33', bg: '#ddd' }]
  });

// ---- MACD
makeChart('macd', 'bar', [
  {
    type: 'bar', order: 5, data: macd.map((v, i) => ({ x: weekX(i), y: v - macdSignal[i] })),
    backgroundColor: macd.map((v, i) => v - macdSignal[i] >= 0 ? '#2f6e2a' : '#7a4612'), barThickness: 2, borderWidth: 0
  },
  line(series(macdSignal, weekX), '#e06050', 0.7, { order: 2 }),
  line(series(macd, weekX), '#222', 0.7, { order: 1 })
], false, yAxis(-760, 340, { stepSize: 100 }),
  {
    hlines: [{ v: 0, c: '#444', w: 0.8 }],
    segs: [[10.1, 280, 18.72, 180, '#e83030', 0.8], [19.56, -320, 21.56, -160, '#4a9a4a', 0.7], [34.1, -560, 35.77, -260, '#4a9a4a', 0.7]],
    legend: [['\u2014 MACD(12,26,9) -230.45, -225.13, -5.32', '#333']],
    boxes: [{ v: -230, t: '-230.4', bg: '#ddd' }]
  });

// ---- fast oscillator
makeChart('sto', 'line', [
  band(series(sto, weekX), 80, '#2e7d32', CLEAR),
  line(series(sto, weekX), '#666', 0.7)
], false, yAxis(0, 100, {}, { afterBuildTicks(s) { s.ticks = [20, 80].map(v => ({ value: v })); } }),
  {
    hlines: [{ v: 80, c: '#e84040', w: 1 }, { v: 72, c: '#f08080', dash: [1, 1] },
      { v: 20, c: '#5aa65a', dash: [1, 1] }, { v: 16, c: '#5aa65a', w: 1 }, { v: 7, c: '#666', w: 1 }],
    segs: [[14.6, 84, 19.0, 63, '#e83030', 0.8], [29.96, 94, 31.38, 57, '#e83030', 0.8],
      [19.2, 5, 21.56, 26, '#4a9a4a', 0.7], [34.1, 5, 35.5, 22, '#4a9a4a', 0.7]],
    legend: [['\u25B2 RSI(5) 51.43', '#2e7d32']],
    boxes: [{ v: 51.43, t: '51.43', bg: '#ddd' }]
  });

// ---- CCI
makeChart('cci', 'line', [
  band(series(cci, weekX), 100, '#2e7d32', CLEAR),
  band(series(cci, weekX), -100, CLEAR, '#f08a24'),
  line(series(cci, weekX), '#666', 0.7)
], false, yAxis(-477, 492, { stepSize: 100 }),
  {
    hlines: [{ v: 200, c: '#e84040', w: 1 }, { v: 100, c: '#888', w: 0.8 }, { v: 0, c: '#aaa', dash: [1, 1] },
      { v: -100, c: '#888', w: 0.8 }, { v: -135, c: '#5aa65a', w: 1 }],
    segs: [[24.64, 338, 31.38, 262, '#e83030', 0.8], [19.2, -430, 21.1, -170, '#4a9a4a', 0.7], [33.4, -290, 35.77, -200, '#4a9a4a', 0.7]],
    legend: [['\u25A0 CCI(20) -139.86', '#2e7d32']],
    boxes: [{ v: 0, t: '-139.9', bg: '#ddd' }]
  });

// ---- TRIX
makeChart('trix', 'line', [
  line(series(trixSignal, weekX), '#e06050', 0.8),
  line(series(trix, weekX), '#222', 0.8)
], true, yAxis(-0.86, 0.40, { stepSize: 0.1, callback: v => v.toFixed(2) }),
  {
    hlines: [{ v: 0.2, c: '#e84040', w: 1 }, { v: 0, c: '#666', w: 0.8 }, { v: -0.1, c: '#5aa65a', w: 1 }],
    segs: [[10.33, 0.35, 18.72, 0.19, '#e83030', 0.8], [23.9, 0.21, 32.2, 0.16, '#e83030', 0.8], [19.9, -0.35, 21.56, -0.07, '#4a9a4a', 0.7]],
    legend: [['\u2014 TRIX(15,9) -0.100, -0.110', '#c03030']],
    boxes: [{ v: -0.10, t: '-0.100', bg: '#ddd' }]
  });
</script>
</body>
</html>
